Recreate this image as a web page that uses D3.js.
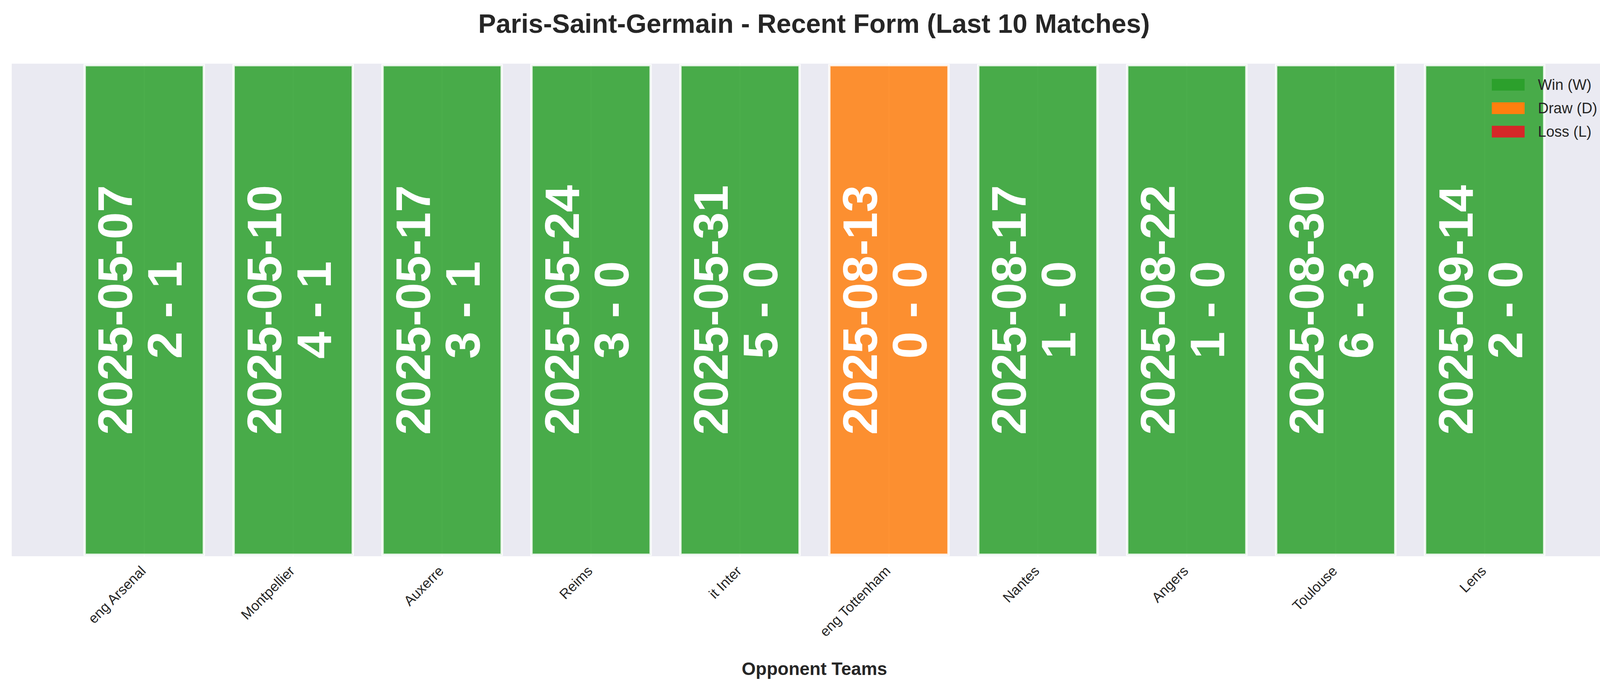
<!DOCTYPE html>
<html><head><meta charset="utf-8">
<script src="https://cdn.jsdelivr.net/npm/d3@7"></script>
<style>body{margin:0;background:#fff}text{font-family:"Liberation Sans",Arial,sans-serif}</style>
</head><body>
<script>
const opponents = ["eng Arsenal","Montpellier","Auxerre","Reims","it Inter","eng Tottenham","Nantes","Angers","Toulouse","Lens"];
const dates = ["2025-05-07","2025-05-10","2025-05-17","2025-05-24","2025-05-31","2025-08-13","2025-08-17","2025-08-22","2025-08-30","2025-09-14"];
const scores = ["2 - 1","4 - 1","3 - 1","3 - 0","5 - 0","0 - 0","1 - 0","1 - 0","6 - 3","2 - 0"];
const results = ["W","W","W","W","W","D","W","W","W","W"];
const legendLabels = ["Win (W)","Draw (D)","Loss (L)"];
const legendKeys = ["W","D","L"];
const colors = {W:"#2ca02c", D:"#ff7f0e", L:"#d62728"};

const W=4170,H=1769, L=30, R=4140, T=163, B=1424;
const svg=d3.select("body").append("svg").attr("width",W).attr("height",H);
svg.append("rect").attr("x",L).attr("y",T).attr("width",R-L).attr("height",B-T).attr("fill","#eaeaf2");

const x=d3.scaleLinear().domain([-0.89,9.89]).range([L,R]);
const y=d3.scaleLinear().domain([-0.003,1.003]).range([B,T]);
const idx=d3.range(opponents.length);
const bw=x(0.8)-x(0);

svg.append("g").selectAll("line").data(idx).join("line")
  .attr("x1",d=>x(d)).attr("x2",d=>x(d)).attr("y1",T).attr("y2",B)
  .attr("stroke","#fff").attr("stroke-width",3);

svg.append("g").selectAll("rect").data(idx).join("rect")
  .attr("x",d=>x(d)-bw/2).attr("width",bw)
  .attr("y",y(1)).attr("height",y(0)-y(1))
  .attr("fill",d=>colors[results[d]]).attr("fill-opacity",0.85)
  .attr("stroke","#fff").attr("stroke-opacity",0.85).attr("stroke-width",6);

const cy=(y(0)+y(1))/2;
const lab=svg.append("g").selectAll("g").data(idx).join("g")
  .attr("transform",d=>`translate(${x(d)},${cy}) rotate(-90)`);
lab.append("text").attr("text-anchor","middle").attr("y",-31)
  .attr("fill","#fff").attr("font-weight","bold").attr("font-size",125)
  .text(d=>dates[d]);
lab.append("text").attr("text-anchor","middle").attr("y",96)
  .attr("fill","#fff").attr("font-weight","bold").attr("font-size",125)
  .text(d=>scores[d]);

svg.append("g").selectAll("text").data(idx).join("text")
  .attr("transform",d=>`translate(${x(d)+6},${B+40}) rotate(-45)`)
  .attr("text-anchor","end").attr("font-size",36).attr("fill","#262626")
  .text(d=>opponents[d]);

svg.append("text").attr("x",(L+R)/2).attr("y",1728).attr("text-anchor","middle")
  .attr("font-size",46).attr("font-weight","bold").attr("fill","#262626").text("Opponent Teams");
svg.append("text").attr("x",2084).attr("y",84).attr("text-anchor","middle")
  .attr("font-size",68).attr("font-weight","bold").attr("fill","#262626")
  .text("Paris-Saint-Germain - Recent Form (Last 10 Matches)");

const lg=svg.append("g").selectAll("g").data(legendKeys).join("g")
  .attr("transform",(d,i)=>`translate(3819,${202+i*60})`);
lg.append("rect").attr("width",84).attr("height",30).attr("fill",d=>colors[d]);
lg.append("text").attr("x",118).attr("y",28).attr("font-size",38).attr("fill","#262626")
  .text((d,i)=>legendLabels[i]);
</script>
</body></html>
